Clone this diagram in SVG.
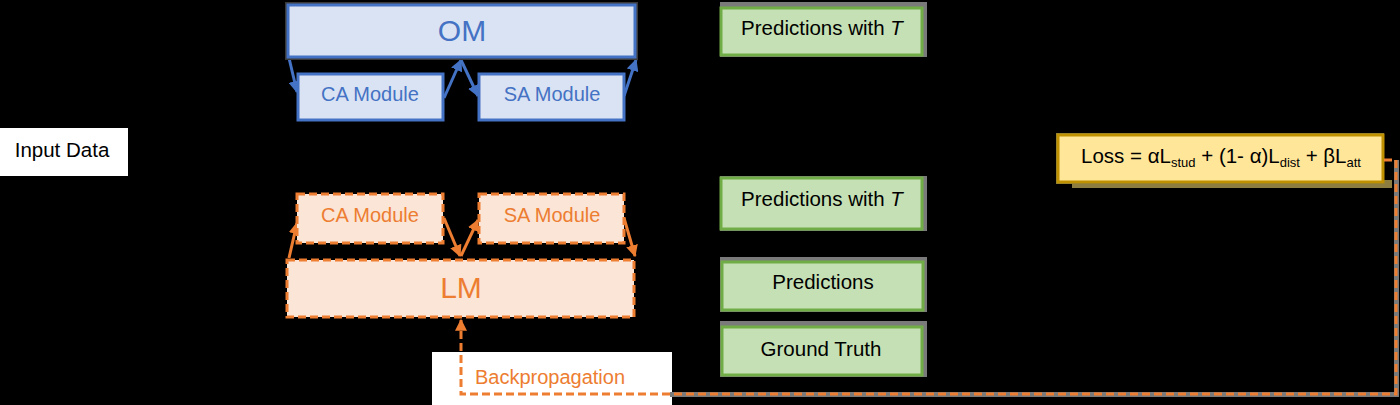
<svg xmlns="http://www.w3.org/2000/svg" width="1400" height="405" viewBox="0 0 1400 405">
<defs>
<style>
text{font-family:"Liberation Sans",Arial,sans-serif;text-anchor:middle}
.om{fill:#dae3f3;stroke:#4472c4;stroke-width:3}
.omt{fill:#4472c4;font-size:20px}
.lm{fill:#fbe5d6;stroke:#ed7d31;stroke-width:3;stroke-dasharray:8 4}
.lmt{fill:#ed7d31;font-size:20px}
.gr{fill:#c5e0b4;stroke:#70ad47;stroke-width:3}
.halo{fill:#7a7a7a}
.blk{fill:#000;font-size:20.5px}
.bl{fill:none;stroke:#4472c4;stroke-width:3}
.ol{fill:none;stroke:#ed7d31;stroke-width:3}
.k{fill:none;stroke:#000;stroke-width:1.5}
</style>
<marker id="ab" viewBox="0 0 10 10" refX="9" refY="5" markerWidth="4" markerHeight="4" orient="auto"><path d="M0,0L10,5L0,10z" fill="#4472c4"/></marker>
<marker id="ao" viewBox="0 0 10 10" refX="9" refY="5" markerWidth="4" markerHeight="4" orient="auto"><path d="M0,0L10,5L0,10z" fill="#ed7d31"/></marker>
<marker id="ak" viewBox="0 0 10 10" refX="9" refY="5" markerWidth="5" markerHeight="5" orient="auto"><path d="M0,0L10,5L0,10z" fill="#000"/></marker>
</defs>
<rect x="0" y="0" width="1400" height="405" fill="#000"/>
<g id="connectors">
<path class="k" d="M128,152 H208 V31 H286" marker-end="url(#ak)"/>
<path class="k" d="M128,152 H208 V289 H286" marker-end="url(#ak)"/>
<path class="k" d="M636,31 H719" marker-end="url(#ak)"/>
<path class="k" d="M636,289 H680 V203 H719" marker-end="url(#ak)"/>
<path class="k" d="M636,289 H719" marker-end="url(#ak)"/>
<path class="k" d="M922,31 H1220 V133" marker-end="url(#ak)"/>
<path class="k" d="M922,203 H990 V158 H1056" marker-end="url(#ak)"/>
<path class="k" d="M924,286 H1220 V184" marker-end="url(#ak)"/>
<path class="k" d="M922,351 H1000 V286"/>
<path class="bl" d="M289,58 L297,92" marker-end="url(#ab)"/>
<path class="bl" d="M444,98 L461,60" marker-end="url(#ab)"/>
<path class="bl" d="M461,60 L478,96" marker-end="url(#ab)"/>
<path class="bl" d="M624,96 L636,60" marker-end="url(#ab)"/>
<path class="ol" d="M289,258 L297,223" marker-end="url(#ao)"/>
<path class="ol" d="M444,218 L460,256" marker-end="url(#ao)"/>
<path class="ol" d="M461,256 L478,220" marker-end="url(#ao)"/>
<path class="ol" d="M624,218 L635,256" marker-end="url(#ao)"/>
</g>
<g id="input">
<rect x="0" y="128" width="128" height="48" fill="#fff"/>
<text class="blk" x="62" y="157" font-size="20px">Input Data</text>
</g>
<g id="om">
<rect x="285" y="2" width="353" height="58" fill="#3a3a3a"/>
<rect class="om" x="288" y="5" width="347" height="52"/>
<text x="462" y="41" fill="#4472c4" font-size="30px">OM</text>
</g>
<g id="om-ca">
<rect class="om" x="298" y="74" width="145" height="46"/>
<text class="omt" x="370" y="101">CA Module</text>
</g>
<g id="om-sa">
<rect class="om" x="479" y="74" width="145" height="46"/>
<text class="omt" x="552" y="101">SA Module</text>
</g>
<g id="lm-ca">
<rect class="lm" x="297" y="194" width="146" height="49"/>
<text class="lmt" x="370" y="222">CA Module</text>
</g>
<g id="lm-sa">
<rect class="lm" x="479" y="194" width="145" height="49"/>
<text class="lmt" x="552" y="222">SA Module</text>
</g>
<g id="lm">
<rect class="lm" x="287" y="260" width="347" height="57"/>
<text x="461" y="298" fill="#ed7d31" font-size="30px">LM</text>
</g>
<g id="pred-t1">
<rect class="halo" x="720" y="2" width="207" height="55"/>
<rect class="gr" x="721" y="8" width="201" height="47"/>
<text class="blk" x="822" y="35">Predictions with <tspan font-style="italic">T</tspan></text>
</g>
<g id="pred-t2">
<rect class="halo" x="720" y="176" width="207" height="55"/>
<rect class="gr" x="721" y="178" width="201" height="51"/>
<text class="blk" x="822" y="206">Predictions with <tspan font-style="italic">T</tspan></text>
</g>
<g id="pred">
<rect class="halo" x="720" y="257" width="207" height="55"/>
<rect class="gr" x="722" y="262" width="201" height="48"/>
<text class="blk" x="823" y="289">Predictions</text>
</g>
<g id="gt">
<rect class="halo" x="720" y="321" width="207" height="56"/>
<rect class="gr" x="722" y="327" width="200" height="48"/>
<text class="blk" x="821" y="356">Ground Truth</text>
</g>
<g id="loss">
<rect x="1072" y="180" width="320" height="8" fill="#8d7d3e"/>
<rect x="1056" y="133" width="328" height="51" fill="#7a7a4a"/>
<rect x="1058" y="135" width="325" height="47" fill="#ffe699" stroke="#bf9000" stroke-width="3"/>
<text class="blk" x="1221" y="163">Loss = αL<tspan font-size="13px" dy="4">stud</tspan><tspan dy="-4"> + (1- α)L</tspan><tspan font-size="13px" dy="4">dist</tspan><tspan dy="-4"> + βL</tspan><tspan font-size="13px" dy="4">att</tspan></text>
</g>
<g id="backprop">
<rect x="432" y="352" width="240" height="53" fill="#fff"/>
<text class="lmt" x="550" y="384">Backpropagation</text>
<path class="halo" d="M1394,160 h5 v237 h-729 v-5 h724z"/>
<path class="ol" d="M1384,160 H1396 V394 H461 V320" stroke-dasharray="8 4" marker-end="url(#ao)"/>
</g>
</svg>
